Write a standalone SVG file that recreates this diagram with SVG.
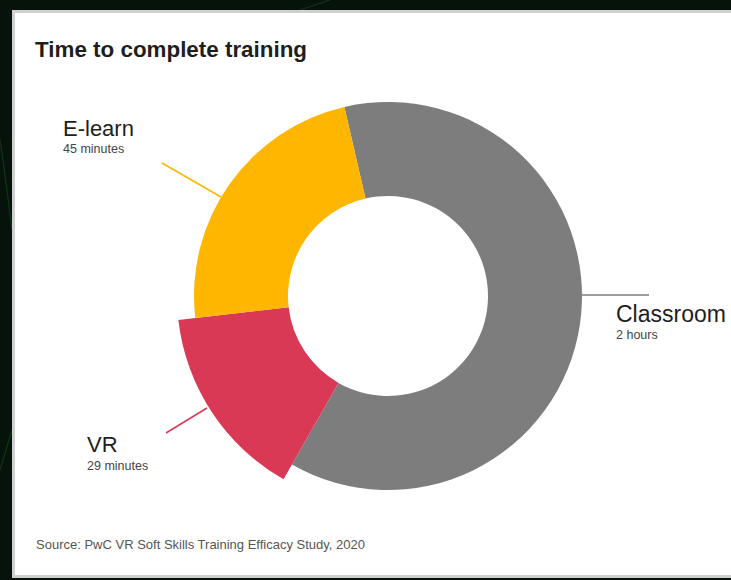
<svg xmlns="http://www.w3.org/2000/svg" width="731" height="580" viewBox="0 0 731 580">
  <style>
    .lbl { font-family: "Liberation Sans", Arial, sans-serif; fill: #1e1e1e; }
    .big { font-size: 22px; }
    .small { font-size: 12.5px; fill: #444; }
    .lead { fill: none; stroke-width: 1.5; }
  </style>
  <rect x="0" y="0" width="731" height="580" fill="#06130b"/>
  <g stroke="#1d4a2a" stroke-width="1.2" fill="none" opacity="0.6">
    <path d="M 300 10 L 330 0"/>
    <path d="M 0 140 Q 6 180 12 230"/>
    <path d="M 0 470 L 12 430"/>
  </g>
  <rect x="13.5" y="11.5" width="730" height="565" fill="#ffffff" stroke="#d0d0d0" stroke-width="3"/>

  <text class="lbl" x="35" y="56.5" font-size="22.4" font-weight="bold" fill="#111">Time to complete training</text>

  <g id="classroom">
    <path d="M 344.36 106.97 A 194 194 0 1 1 291.94 464.55 L 338.49 382.88 A 100 100 0 1 0 365.50 198.56 Z" fill="#7d7d7d"/>
    <text class="lbl big" x="616" y="321.5" style="font-size:23px">Classroom</text>
    <text class="lbl small" x="616" y="338.5">2 hours</text>
  </g>

  <g id="vr">
    <path d="M 283.53 479.32 A 211 211 0 0 1 178.36 319.92 L 288.64 307.34 A 100 100 0 0 0 338.49 382.88 Z" fill="#d93954"/>
    <text class="lbl big" x="87" y="452">VR</text>
    <text class="lbl small" x="87" y="469.5">29 minutes</text>
  </g>

  <g id="elearn">
    <path d="M 195.25 317.99 A 194 194 0 0 1 344.36 106.97 L 365.50 198.56 A 100 100 0 0 0 288.64 307.34 Z" fill="#ffb600"/>
    <text class="lbl big" x="63" y="136">E-learn</text>
    <text class="lbl small" x="63" y="153">45 minutes</text>
  </g>

  <g id="connectors">
    <line class="lead" x1="162" y1="163" x2="221" y2="197" stroke="#ffb600"/>
    <line class="lead" x1="166" y1="433" x2="207" y2="408" stroke="#d93954"/>
    <line class="lead" x1="582" y1="295" x2="649" y2="295" stroke="#7d7d7d"/>
  </g>

  <text class="lbl" x="36" y="548.5" font-size="13" style="fill:#555">Source: PwC VR Soft Skills Training Efficacy Study, 2020</text>
</svg>
